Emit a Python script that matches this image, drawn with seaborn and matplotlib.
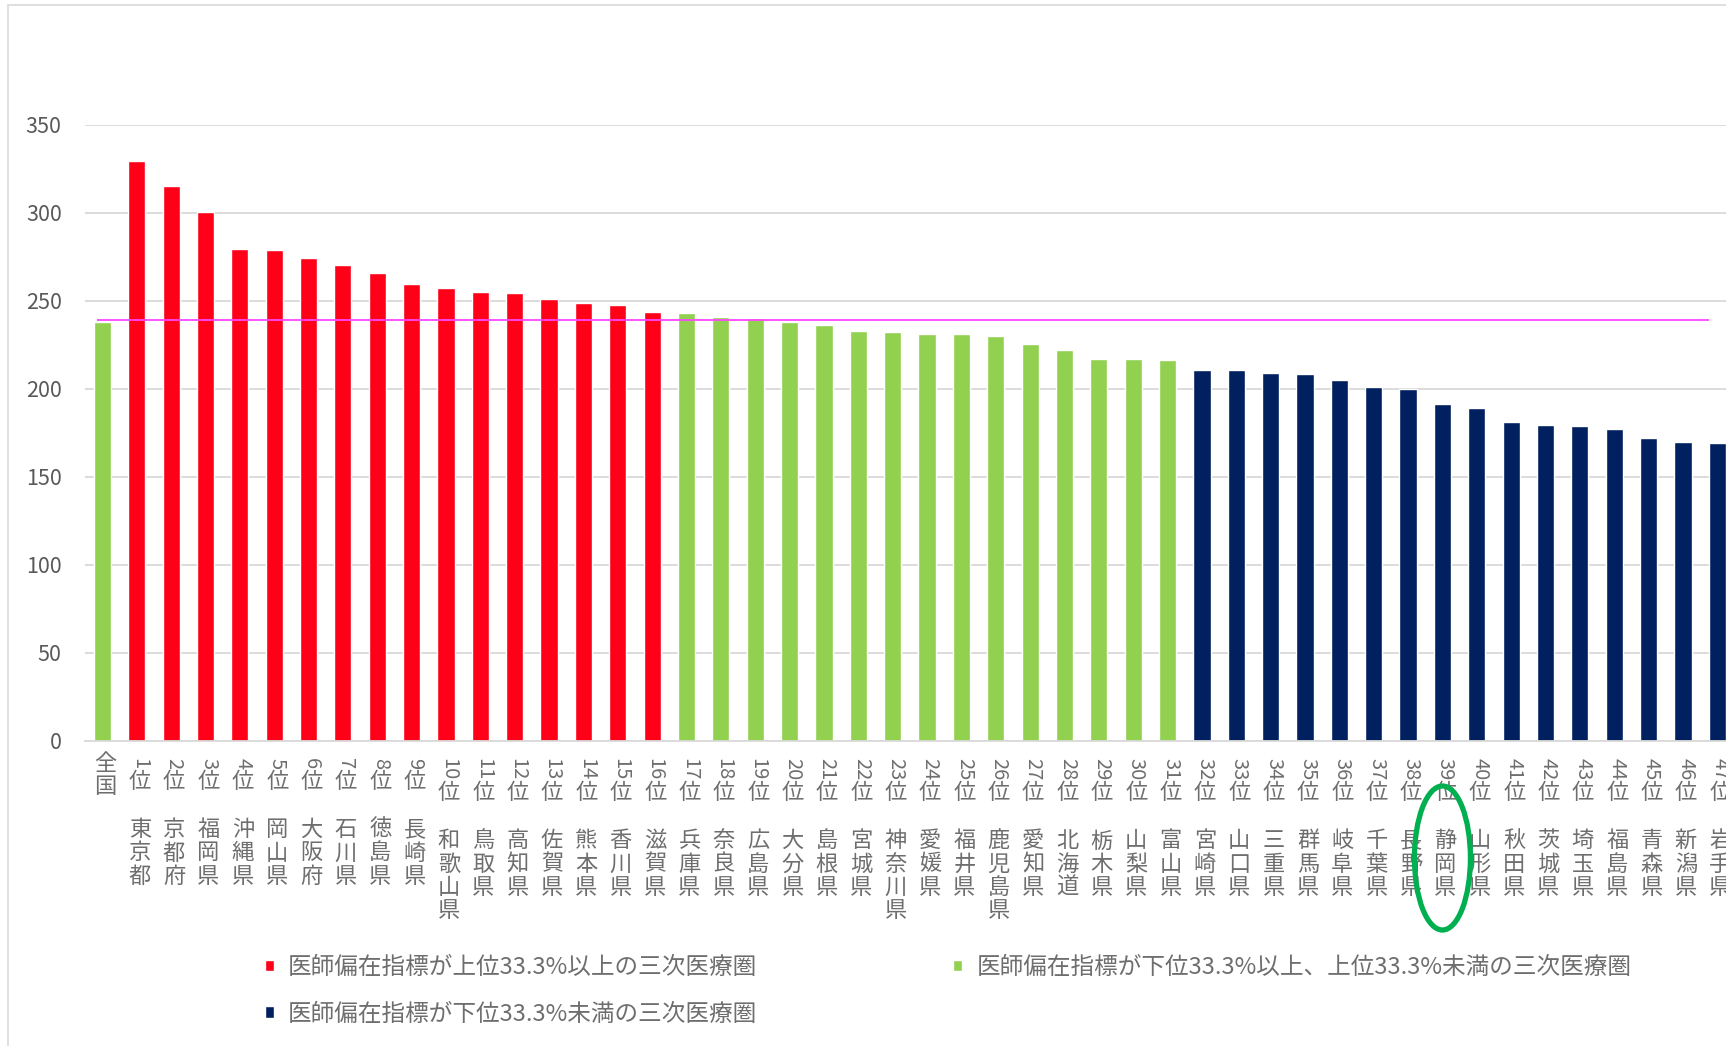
import matplotlib
matplotlib.use("Agg")
import matplotlib.pyplot as plt
from matplotlib import transforms
from matplotlib.patches import Patch, Ellipse, Rectangle
import pandas as pd
import seaborn as sns

# ---- data -------------------------------------------------------------
ranks = ["全国"] + [f"{i}位" for i in range(1, 48)]

prefectures = ["", "東京都", "京都府", "福岡県", "沖縄県", "岡山県", "大阪府", "石川県",
               "徳島県", "長崎県", "和歌山県", "鳥取県", "高知県", "佐賀県", "熊本県",
               "香川県", "滋賀県", "兵庫県", "奈良県", "広島県", "大分県", "島根県",
               "宮城県", "神奈川県", "愛媛県", "福井県", "鹿児島県", "愛知県", "北海道",
               "栃木県", "山梨県", "富山県", "宮崎県", "山口県", "三重県", "群馬県",
               "岐阜県", "千葉県", "長野県", "静岡県", "山形県", "秋田県", "茨城県",
               "埼玉県", "福島県", "青森県", "新潟県", "岩手県"]

index_values = [238.1,
                329.4, 315.0, 300.4, 279.2, 278.8, 274.3, 270.1, 265.9, 259.5, 257.0,
                254.9, 254.2, 251.1, 248.5, 247.6, 243.4, 242.8, 240.9, 240.2, 237.7,
                236.0, 232.8, 232.0, 231.3, 231.3, 229.9, 225.6, 222.2, 216.7, 216.7,
                216.1, 210.8, 210.6, 209.1, 208.4, 204.9, 200.8, 199.8, 191.3, 189.2,
                180.9, 179.2, 178.6, 177.3, 172.2, 169.9, 169.3]

national_line = 239.0

legend_top = "医師偏在指標が上位33.3%以上の三次医療圏"
legend_mid = "医師偏在指標が下位33.3%以上、上位33.3%未満の三次医療圏"
legend_low = "医師偏在指標が下位33.3%未満の三次医療圏"

tiers = [legend_mid] + [legend_top] * 16 + [legend_mid] * 15 + [legend_low] * 16

highlight_rank = "39位"

# ---- style ------------------------------------------------------------
RED, GREEN, NAVY = "#FF0018", "#92D050", "#002060"
palette = {legend_top: RED, legend_mid: GREEN, legend_low: NAVY}
GRID = "#D9D9D9"
TXT = "#6E6E6E"

sns.set_style("white")
plt.rcParams["font.family"] = ["Noto Sans CJK JP", "DejaVu Sans"]

W, H, DPI = 1726, 1046, 100
fig = plt.figure(figsize=(W / DPI, H / DPI), dpi=DPI, facecolor="white")
ax = fig.add_axes([85.2 / W, (H - 740.7) / H, 1649.3 / W, 616.0 / H])

labels = [r if not p else f"{r} {p}" for r, p in zip(ranks, prefectures)]
df = pd.DataFrame({"label": labels, "value": index_values, "tier": tiers})

sns.barplot(data=df, x="label", y="value", hue="tier", order=labels,
            palette=palette, dodge=False, width=0.5, saturation=1,
            legend=False, ax=ax)

ax.hlines(national_line, -0.17, 46.77, color="#FF45FF", lw=1.3, zorder=3)

ax.set_xlim(-0.5, 47.5)
ax.set_ylim(0, 350)
ax.set_yticks(range(0, 351, 50))
ax.yaxis.grid(True, color=GRID, lw=1.3)
ax.set_axisbelow(True)
for side in ("left", "right", "top"):
    ax.spines[side].set_visible(False)
ax.spines["bottom"].set_color(GRID)
ax.spines["bottom"].set_linewidth(1.3)
ax.tick_params(axis="y", length=0, pad=17, labelsize=15.5, labelcolor="#595959")
ax.set_xticks(range(len(labels)))
ax.set_xticklabels([])
ax.tick_params(axis="x", length=0)
ax.set_xlabel("")
ax.set_ylabel("")

# ---- vertical category labels -----------------------------------------
base = transforms.blended_transform_factory(ax.transData, fig.dpi_scale_trans)
lab_trans = transforms.offset_copy(base, fig=fig, x=3, y=0, units="dots")
FS = 16
PITCH = 23.3


def yin(ypx):
    return (H - ypx) / DPI


for i, (rank, pref) in enumerate(zip(ranks, prefectures)):
    if not pref:
        for k, ch in enumerate(rank):
            ax.text(i, yin(770 + k * PITCH), ch, transform=lab_trans, ha="center",
                    va="baseline", fontsize=FS, color=TXT)
        continue
    digits = rank[:-1]
    t_dig = ax.text(i, yin(758), digits, transform=lab_trans, rotation=-90,
                    ha="center", va="top", fontsize=14.5, color=TXT)
    t_wei = ax.annotate("位", xy=(i, 0), xycoords=(lab_trans, t_dig),
                        xytext=(0, -1), textcoords="offset pixels",
                        ha="center", va="top", fontsize=FS, color=TXT)
    for k, ch in enumerate(pref):
        ax.annotate(ch, xy=(i, 0), xycoords=(lab_trans, t_wei),
                    xytext=(0, -(43 + k * PITCH)), textcoords="offset pixels",
                    ha="center", va="baseline", fontsize=FS, color=TXT)

# highlight ring around one prefecture
hi = ranks.index(highlight_rank)
ring = Ellipse((hi, yin(858)), width=56 / 34.36, height=1.44, transform=base,
               fill=False, edgecolor="#00B050", lw=3.8, clip_on=False, zorder=5)
ax.add_artist(ring)

# ---- legend -----------------------------------------------------------
handles = [Patch(facecolor=RED, label=legend_top),
           Patch(facecolor=NAVY, label=legend_low),
           Patch(facecolor=GREEN, label=legend_mid)]
fig.legend(handles=handles, loc="upper left", bbox_to_anchor=(265 / W, (H - 956) / H),
           ncol=2, frameon=False, fontsize=17, labelcolor=TXT,
           handlelength=0.38, handleheight=0.38, handletextpad=0.6,
           columnspacing=8.3, labelspacing=1.0, borderpad=0, borderaxespad=0)

# outer frame
fig.add_artist(Rectangle((8 / W, -0.1), 1.2, (H - 5.5) / H + 0.1,
                         transform=fig.transFigure, fill=False,
                         edgecolor=GRID, lw=1.2))

fig.savefig("out.png", dpi=DPI, facecolor="white")
